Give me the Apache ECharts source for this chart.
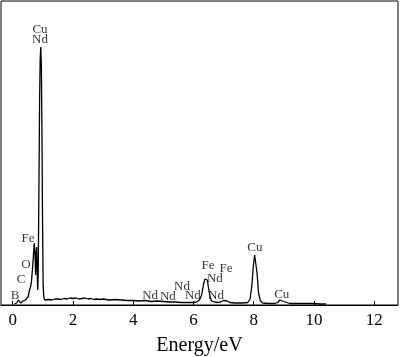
<!DOCTYPE html>
<html>
<head>
<meta charset="utf-8">
<script src="https://cdn.jsdelivr.net/npm/echarts@6/dist/echarts.min.js"></script>
<style>html,body{margin:0;padding:0;background:#fff}#c{width:400px;height:357px}</style>
</head>
<body>
<div id="c"></div>
<script>
const energy = [0.05,0.09,0.13,0.17,0.19,0.22,0.26,0.30,0.34,0.38,0.42,0.46,0.51,0.55,0.58,0.62,0.645,0.665,0.69,0.715,0.73,0.745,0.76,0.78,0.795,0.81,0.83,0.845,0.87,0.89,0.91,0.93,0.95,0.97,0.99,1.01,1.03,1.06,
1.1,1.2,1.3,1.4,1.5,1.6,1.7,1.8,1.9,2.0,2.1,2.2,2.3,2.4,2.5,2.6,2.7,2.8,2.9,3.0,3.2,3.4,3.6,3.8,4.0,4.2,4.4,4.6,4.8,5.0,5.2,5.4,5.6,5.8,6.0,6.1,6.2,6.27,6.33,6.38,6.42,6.46,6.5,6.55,6.6,6.7,6.8,6.9,7.0,7.06,7.12,7.2,7.4,7.6,7.8,7.88,7.94,7.99,8.03,8.07,8.11,8.16,8.22,8.3,8.5,8.7,8.8,8.86,8.9,8.95,9.0,9.2,9.5,9.8,10.0,10.2,10.4];
const counts = [1,2,2,4,5,3,2,2,4,4,5,7,8,14,17,23,32,40,52,62,64,45,30,55,58,35,15,30,120,200,245,258,240,170,80,20,8,5,
5,5.5,5,6,6,5.5,6.5,6,7,6.5,7,6,6.5,7,6,6.5,5.5,6,5.5,6,5,5.5,5,4.5,4.5,4,4.5,3.5,4,3.5,3,3,2.5,2.5,2.5,3,5,10,20,26,28,25,17,8,4,3,2.5,3,4.5,5,4,2.5,2,2,2.5,6,20,40,50,48,32,12,4,2,1.5,1.5,2.5,5,5.5,4,2,1.5,1.5,1.5,1.5,1,1];
const xTicks = [0,2,4,6,8,10,12];
const labelEnergy = [0.906,0.906,0.51,0.44,0.275,0.076,4.56,5.15,5.62,5.98,6.48,6.71,7.08,6.75,8.04,8.93];
const labelHeight = [275,265,66,40,25,9,9,8,18,9,39,26,36,9,57,10];
const labelText = ['Cu','Nd','Fe','O','C','B','Nd','Nd','Nd','Nd','Fe','Nd','Fe','Nd','Cu','Cu'];

const spectrum = energy.map((e,i)=>[e,counts[i]]);
const labels = labelEnergy.map((e,i)=>({value:[e,labelHeight[i]],name:labelText[i]}));
const font = 'Liberation Serif';
const chart = echarts.init(document.getElementById('c'));
chart.setOption({
  animation:false,
  grid:{left:1,right:2,top:1,bottom:52,outerBoundsMode:'none',containLabel:false,show:true,borderColor:'#000',borderWidth:1,backgroundColor:'transparent'},
  xAxis:{type:'value',min:-0.39,max:12.79,
    name:'Energy/eV',nameLocation:'middle',nameGap:31,
    nameTextStyle:{fontFamily:font,fontSize:20,color:'#000'},
    axisLine:{show:true,lineStyle:{color:'#000',width:1}},
    axisTick:{show:true,inside:true,length:4,customValues:xTicks,lineStyle:{color:'#000'}},
    axisLabel:{customValues:xTicks,fontFamily:font,fontSize:17,color:'#000',margin:7},
    splitLine:{show:false}},
  yAxis:{type:'value',min:0,max:304,show:false,splitLine:{show:false}},
  series:[
    {type:'line',data:spectrum,showSymbol:false,symbol:'none',lineStyle:{color:'#000',width:1.3},z:2},
    {type:'scatter',data:labels,symbolSize:0,z:3,
      label:{show:true,position:'inside',formatter:p=>p.name,fontFamily:font,fontSize:13,color:'#000'}}
  ]
});
</script>
</body>
</html>
